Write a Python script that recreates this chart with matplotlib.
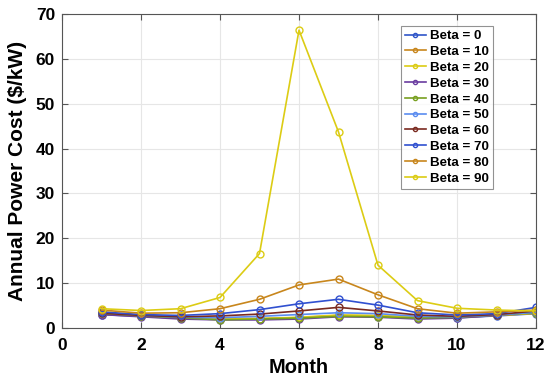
import matplotlib
matplotlib.use("Agg")
import matplotlib.pyplot as plt

months = [1, 2, 3, 4, 5, 6, 7, 8, 9, 10, 11, 12]
labels = ["Beta = 0", "Beta = 10", "Beta = 20", "Beta = 30", "Beta = 40",
          "Beta = 50", "Beta = 60", "Beta = 70", "Beta = 80", "Beta = 90"]
beta0 = [3.0, 2.6, 2.2, 2.0, 2.0, 2.2, 2.7, 2.6, 2.2, 2.3, 2.7, 3.2]
beta10 = [3.1, 2.7, 2.3, 2.1, 2.1, 2.3, 2.8, 2.7, 2.3, 2.4, 2.8, 3.3]
beta20 = [3.2, 2.6, 2.2, 2.0, 2.1, 2.4, 2.9, 2.8, 2.4, 2.4, 2.8, 3.3]
beta30 = [3.0, 2.5, 2.0, 1.8, 1.8, 2.0, 2.5, 2.4, 2.0, 2.2, 2.8, 3.6]
beta40 = [3.3, 2.7, 2.3, 1.8, 2.0, 2.2, 2.6, 2.5, 2.2, 2.4, 2.9, 3.4]
beta50 = [3.4, 2.8, 2.4, 2.3, 2.6, 3.0, 3.4, 3.2, 2.6, 2.5, 2.9, 3.5]
beta60 = [3.3, 2.8, 2.5, 2.7, 3.1, 3.8, 4.6, 3.8, 2.9, 2.6, 3.0, 3.8]
beta70 = [3.6, 3.0, 2.8, 3.2, 4.1, 5.4, 6.4, 5.1, 3.4, 2.9, 3.2, 4.6]
beta80 = [4.0, 3.3, 3.4, 4.3, 6.4, 9.6, 10.9, 7.4, 4.3, 3.3, 3.6, 4.0]
beta90 = [4.3, 3.9, 4.3, 6.8, 16.6, 66.4, 43.7, 14.0, 6.1, 4.4, 4.0, 3.8]
series = [beta0, beta10, beta20, beta30, beta40, beta50, beta60, beta70, beta80, beta90]

colors = ["#2f55c8", "#c8861c", "#dccc14", "#6a3ca0", "#78a020",
          "#5a8cf0", "#7a2a20", "#3050d0", "#c8861c", "#dccc14"]

plt.rcParams['font.family'] = ['Liberation Sans', 'DejaVu Sans']
plt.rcParams['font.weight'] = 'bold'

fig = plt.figure(figsize=(5.5, 3.86), dpi=100)
ax = fig.add_axes([62/550, 1-328/386, (536-62)/550, (328-14)/386])

for ys, c, lab in zip(series, colors, labels):
    ax.plot(months, ys, color=c, lw=1.2, marker='o', ms=5, mfc='none',
            mew=1.0, label=lab)

ax.set_xlim(0, 12)
ax.set_ylim(0, 70)
ax.set_xticks(range(0, 13, 2))
ax.set_yticks(range(0, 71, 10))
ax.grid(True, color='#e6e6e6', lw=0.8)
ax.set_axisbelow(True)
for s in ax.spines.values():
    s.set_color('#555555')
    s.set_linewidth(0.8)
ax.tick_params(direction='in', length=4, width=0.8, color='#555555',
               top=True, right=True, labelsize=12.5)
ax.tick_params(axis='x', pad=7)
ax.tick_params(axis='y', pad=5)
for t in ax.get_xticklabels() + ax.get_yticklabels():
    t.set_fontweight('bold')
ax.set_xlabel("Month", fontsize=14.5, fontweight='bold', labelpad=4)
ax.set_ylabel("Annual Power Cost ($/kW)", fontsize=15, fontweight='bold', labelpad=6)

leg = ax.legend(loc='upper right', bbox_to_anchor=(493/550, 1 - 26/386),
                bbox_transform=fig.transFigure,
                prop={'weight': 'bold', 'size': 9.6},
                frameon=True, fancybox=False, edgecolor='#777777',
                handlelength=1.6, handletextpad=0.3, labelspacing=0.26,
                borderpad=0.3, borderaxespad=0, markerscale=0.6)
leg.get_frame().set_linewidth(0.8)

fig.savefig("out.png", dpi=100)
